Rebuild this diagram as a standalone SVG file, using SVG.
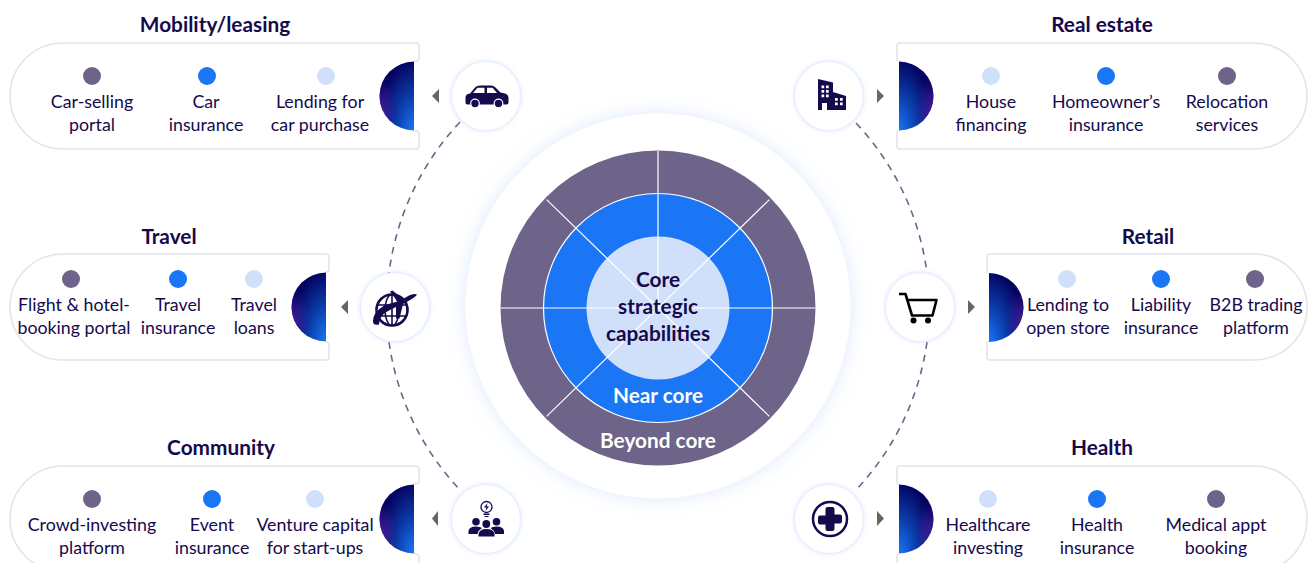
<svg xmlns="http://www.w3.org/2000/svg" width="1308" height="563" viewBox="0 0 1308 563">
<style>
text{font-family:"Lato","Liberation Sans",sans-serif;text-anchor:middle;fill:#150a4d}
.t{font-size:20.800px;font-weight:700}
.b{font-size:17.800px;font-weight:400}
.c{font-size:20.800px;font-weight:700}
text.w{fill:#fff}
.card{fill:#fff;stroke:#e3e3ee;stroke-width:1.6}
.node{fill:#fff;filter:url(#glow)}
.arr{fill:#666}
.dk{fill:#150a4d}
.wf{fill:#fff}
.p{fill:#6e6489}.m{fill:#1a76f5}.l{fill:#d1e0fa}
.dash{fill:none;stroke:#6e6489;stroke-width:1.6;stroke-dasharray:7 6}
.sp{stroke:#fff;stroke-width:1.2;fill:none}
</style>
<defs>
<filter id="glow" x="-30%" y="-30%" width="160%" height="160%"><feDropShadow dx="0" dy="0" stdDeviation="2.5" flood-color="#a9c8fa" flood-opacity=".75"/></filter>
<filter id="halo" x="-20%" y="-20%" width="140%" height="140%"><feDropShadow dx="0" dy="0" stdDeviation="9" flood-color="#c4d8fb" flood-opacity=".6"/></filter>
<radialGradient id="dl" cx="1" cy="1" r="1.05"><stop offset="0" stop-color="#1a76f5"/><stop offset=".5" stop-color="#0b3ba8"/><stop offset="1" stop-color="#04025f"/></radialGradient>
<radialGradient id="dr" cx="0" cy="1" r="1.05"><stop offset="0" stop-color="#1a76f5"/><stop offset=".5" stop-color="#0b3ba8"/><stop offset="1" stop-color="#04025f"/></radialGradient>
<radialGradient id="pl" cx="0" cy=".72" r=".5"><stop offset="0" stop-color="#5a22a8" stop-opacity=".8"/><stop offset="1" stop-color="#5a22a8" stop-opacity="0"/></radialGradient>
<radialGradient id="pr" cx="1" cy=".72" r=".5"><stop offset="0" stop-color="#5a22a8" stop-opacity=".8"/><stop offset="1" stop-color="#5a22a8" stop-opacity="0"/></radialGradient>
<path id="hl" d="M0-34.500A34.500 34.500 0 0 0 0 34.500Z"/>
<path id="hr" d="M0-34.500A34.500 34.500 0 0 1 0 34.500Z"/>
</defs>
<rect width="1308" height="563" fill="#fff"/>
<g id="connectors">
<path class="dash" d="M460 122A270.500 270.500 0 0 0 389 273"/>
<path class="dash" d="M389 342A270.500 270.500 0 0 0 461 491"/>
<path class="dash" d="M856 123A270.500 270.500 0 0 1 927 273"/>
<path class="dash" d="M927 342A270.500 270.500 0 0 1 855 491"/>
</g>
<g id="core">
<circle cx="658" cy="306" r="192.500" fill="#fff" filter="url(#halo)"/>
<circle class="p" cx="658" cy="308" r="157.500"/>
<circle class="m" cx="658" cy="308" r="114.500" stroke="#fff" stroke-width="1.200"/>
<circle class="l" cx="658" cy="308" r="71.500"/>
<path class="sp" d="M658 151V308M500.500 308H815.500M546.600 199.600L769.400 416.400M769.400 199.600L546.600 416.400"/>
<text class="c" x="658" y="287">Core</text>
<text class="c" x="658" y="314">strategic</text>
<text class="c" x="658" y="341">capabilities</text>
<text class="c w" x="658" y="403">Near core</text>
<text class="c w" x="658" y="448">Beyond core</text>
</g>
<g id="mobility">
<text class="t" x="215" y="32">Mobility/leasing</text>
<path class="card" d="M414 131h2a3 3 0 0 1 3 3V146a3 3 0 0 1-3 3H63a53 53 0 0 1 0-106H416a3 3 0 0 1 3 3V58a3 3 0 0 1-3 3h-2"/>
<g transform="translate(414 96)"><use href="#hl" fill="url(#dl)"/><use href="#hl" fill="url(#pl)"/></g>
<circle class="p" cx="92" cy="76" r="9"/><circle class="m" cx="207" cy="76" r="9"/><circle class="l" cx="326" cy="76" r="9"/>
<text class="b" x="92" y="108">Car-selling</text><text class="b" x="92" y="131">portal</text>
<text class="b" x="206" y="108">Car</text><text class="b" x="206" y="131">insurance</text>
<text class="b" x="320" y="108">Lending for</text><text class="b" x="320" y="131">car purchase</text>
<path class="arr" d="M439 89V103L432 96Z"/>
<circle class="node" cx="486" cy="96" r="34"/>
<path class="dk" d="M465.500 97.500Q465.500 94 470 93.500L475.500 87Q477 85.500 480 85.500H491Q493.500 85.500 495.500 87.500L500.500 92.500L505 93.500Q508.500 94.500 508.500 98V102.500Q508.500 104.500 506.500 104.500H467.500Q465.500 104.500 465.500 102.500Z"/>
<path class="wf" d="M473 93L477.500 87.700H484.500V93ZM487 87.700H492.500L497 93H487Z"/>
<circle class="dk" cx="475" cy="103.500" r="4.300" stroke="#fff" stroke-width="1.200"/><circle class="dk" cx="498.500" cy="103.500" r="4.300" stroke="#fff" stroke-width="1.200"/>
</g>
<g id="travel">
<text class="t" x="169" y="244">Travel</text>
<path class="card" d="M326 342h0a3 3 0 0 1 3 3V357a3 3 0 0 1-3 3H63a53 53 0 0 1 0-106H326a3 3 0 0 1 3 3V269a3 3 0 0 1-3 3"/>
<g transform="translate(326 307)"><use href="#hl" fill="url(#dl)"/><use href="#hl" fill="url(#pl)"/></g>
<circle class="p" cx="71" cy="279" r="9"/><circle class="m" cx="178" cy="279" r="9"/><circle class="l" cx="254" cy="279" r="9"/>
<text class="b" x="74" y="311">Flight &amp; hotel-</text><text class="b" x="74" y="334">booking portal</text>
<text class="b" x="178" y="311">Travel</text><text class="b" x="178" y="334">insurance</text>
<text class="b" x="254" y="311">Travel</text><text class="b" x="254" y="334">loans</text>
<path class="arr" d="M348 300V314L341 307Z"/>
<circle class="node" cx="395" cy="307" r="34"/>
<g fill="none" stroke="#150a4d" stroke-width="1.600"><circle cx="392" cy="310" r="15.500" stroke-width="2.600"/><ellipse cx="392" cy="310" rx="7" ry="15.500"/><path d="M392 294.500V325.500M377 305H407M377 316H407"/></g>
<path class="dk" d="M417 294.500Q414 293 409 295.500L403 299L392.500 290.500L390 291.500L397.500 301.500L385 305Q373 312 373 321Q373 326 379 324.500Q379 315 389 310.500L396 307L396 318.500H399.500L403 304L411 299.500Q416 296.500 417 294.500Z"/>
</g>
<g id="community">
<text class="t" x="221" y="455">Community</text>
<path class="card" d="M414 554h2a3 3 0 0 1 3 3V569a3 3 0 0 1-3 3H63a53 53 0 0 1 0-106H416a3 3 0 0 1 3 3V481a3 3 0 0 1-3 3h-2"/>
<g transform="translate(414 519)"><use href="#hl" fill="url(#dl)"/><use href="#hl" fill="url(#pl)"/></g>
<circle class="p" cx="92" cy="499" r="9"/><circle class="m" cx="212" cy="499" r="9"/><circle class="l" cx="315" cy="499" r="9"/>
<text class="b" x="92" y="531">Crowd-investing</text><text class="b" x="92" y="554">platform</text>
<text class="b" x="212" y="531">Event</text><text class="b" x="212" y="554">insurance</text>
<text class="b" x="315" y="531">Venture capital</text><text class="b" x="315" y="554">for start-ups</text>
<path class="arr" d="M438 511V526L432 518.500Z"/>
<circle class="node" cx="486" cy="519" r="34"/>
<circle cx="486.500" cy="507" r="5.500" fill="none" stroke="#150a4d" stroke-width="1.300"/>
<path class="dk" d="M487.500 503L484 507.500H486.300L485.500 511L489 506.500H486.700ZM483.500 513.500H489.500V515H483.500ZM484.500 516H488.500V517H484.500Z"/>
<circle class="dk" cx="476" cy="521.700" r="3.800"/><circle class="dk" cx="496.500" cy="521.700" r="3.800"/><circle class="dk" cx="486.300" cy="524" r="3.900"/>
<path class="dk" d="M468.500 534V531Q469 526.500 476 526.500Q480 526.500 482 528Q478.500 530 477.500 534ZM504 534V531Q503.500 526.500 496.500 526.500Q492.500 526.500 490.500 528Q494 530 495 534Z"/>
<path class="dk" d="M478.500 536.500V534Q479.500 529 486.500 529Q493.500 529 494.500 534V536.500Z"/>
</g>
<g id="real-estate">
<text class="t" x="1102" y="32">Real estate</text>
<path class="card" d="M899 131h-1a1 1 0 0 0-1 1V146a3 3 0 0 0 3 3H1254a53 53 0 0 0 0-106H900a3 3 0 0 0-3 3V60a1 1 0 0 0 1 1h1"/>
<g transform="translate(899 96)"><use href="#hr" fill="url(#dr)"/><use href="#hr" fill="url(#pr)"/></g>
<circle class="l" cx="991" cy="76" r="9"/><circle class="m" cx="1106" cy="76" r="9"/><circle class="p" cx="1227" cy="76" r="9"/>
<text class="b" x="991" y="108">House</text><text class="b" x="991" y="131">financing</text>
<text class="b" x="1106" y="108">Homeowner’s</text><text class="b" x="1106" y="131">insurance</text>
<text class="b" x="1227" y="108">Relocation</text><text class="b" x="1227" y="131">services</text>
<path class="arr" d="M877 89V103L884 96Z"/>
<circle class="node" cx="829" cy="96" r="34"/>
<path class="dk" d="M818 79L833 82.500V92L846 96V110H818Z"/>
<path class="wf" d="M821.500 85.500h2.700v2.700h-2.700zM826 85.500h2.700v2.700H826zM821.500 90h2.700v2.700h-2.700zM826 90h2.700v2.700H826zM821.500 94.500h2.700v2.700h-2.700zM826 94.500h2.700v2.700H826zM835 98h2.700v2.700H835zM840 98h2.700v2.700H840zM835 102.500h2.700v2.700H835zM840 102.500h2.700v2.700H840zM822 103h5v7h-5z"/>
</g>
<g id="retail">
<text class="t" x="1148" y="244">Retail</text>
<path class="card" d="M989 342h-1a1 1 0 0 0-1 1V357a3 3 0 0 0 3 3H1254a53 53 0 0 0 0-106H990a3 3 0 0 0-3 3V271a1 1 0 0 0 1 1h1"/>
<g transform="translate(989 307.500)"><use href="#hr" fill="url(#dr)"/><use href="#hr" fill="url(#pr)"/></g>
<circle class="l" cx="1067" cy="279" r="9"/><circle class="m" cx="1161" cy="279" r="9"/><circle class="p" cx="1255" cy="279" r="9"/>
<text class="b" x="1068" y="311">Lending to</text><text class="b" x="1068" y="334">open store</text>
<text class="b" x="1161" y="311">Liability</text><text class="b" x="1161" y="334">insurance</text>
<text class="b" x="1256" y="311">B2B trading</text><text class="b" x="1256" y="334">platform</text>
<path class="arr" d="M968 300V314L975 307Z"/>
<circle class="node" cx="920" cy="307" r="34"/>
<path d="M899 294H905.500L912 315.500H932.500L936.500 300H907" fill="none" stroke="#000" stroke-width="2.600" stroke-linejoin="round"/>
<circle cx="913.500" cy="320.500" r="3" fill="#000"/><circle cx="928" cy="320.500" r="3" fill="#000"/>
</g>
<g id="health">
<text class="t" x="1102" y="455">Health</text>
<path class="card" d="M899 554h-1a1 1 0 0 0-1 1V569a3 3 0 0 0 3 3H1254a53 53 0 0 0 0-106H900a3 3 0 0 0-3 3V483a1 1 0 0 0 1 1h1"/>
<g transform="translate(899 519)"><use href="#hr" fill="url(#dr)"/><use href="#hr" fill="url(#pr)"/></g>
<circle class="l" cx="988" cy="499" r="9"/><circle class="m" cx="1097" cy="499" r="9"/><circle class="p" cx="1216" cy="499" r="9"/>
<text class="b" x="988" y="531">Healthcare</text><text class="b" x="988" y="554">investing</text>
<text class="b" x="1097" y="531">Health</text><text class="b" x="1097" y="554">insurance</text>
<text class="b" x="1216" y="531">Medical appt</text><text class="b" x="1216" y="554">booking</text>
<path class="arr" d="M877 511V526L884 518.500Z"/>
<circle class="node" cx="829" cy="519" r="34"/>
<circle cx="830" cy="519" r="17" fill="none" stroke="#150a4d" stroke-width="2.500"/>
<path class="dk" d="M825.500 509a2 2 0 0 1 2-2h5a2 2 0 0 1 2 2v5.500h5.500a2 2 0 0 1 2 2v5a2 2 0 0 1-2 2h-5.500V529a2 2 0 0 1-2 2h-5a2 2 0 0 1-2-2v-4.500H820a2 2 0 0 1-2-2v-5a2 2 0 0 1 2-2h5.500Z"/>
</g>
</svg>
